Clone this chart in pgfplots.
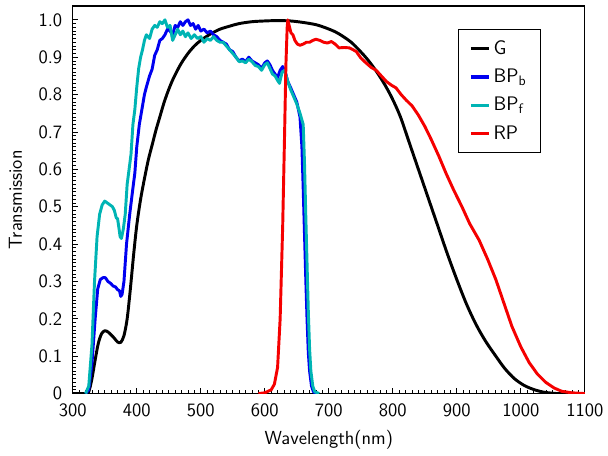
\documentclass[border=0pt]{standalone}
\usepackage{pgfplots}
\pgfplotsset{compat=1.18}
\renewcommand{\familydefault}{\sfdefault}
\definecolor{cG}{RGB}{0,0,0}
\definecolor{cB}{RGB}{0,0,240}
\definecolor{cF}{RGB}{0,180,180}
\definecolor{cR}{RGB}{245,0,0}
\begin{document}
\begin{tikzpicture}[font=\fontsize{13.5}{16}\selectfont]
\begin{axis}[
  scale only axis, width=366pt, height=277pt,
  xmin=300, xmax=1100, ymin=0, ymax=1.037,
  xtick={300,400,...,1100},
  ytick={0,0.1,...,1.0},
  yticklabels={0,0.1,0.2,0.3,0.4,0.5,0.6,0.7,0.8,0.9,1.0},
  minor x tick num=9, minor y tick num=9,
  xtick pos=lower, ytick pos=left,
  tick align=inside,
  major tick length=4pt, minor tick length=2.2pt,
  every tick/.style={black, line width=0.6pt},
  axis line style={line width=0.9pt},
  /pgf/number format/assume math mode=true,
  x tick label style={/pgf/number format/1000 sep={}, yshift=-3.5pt},
  y tick label style={xshift=-4pt},
  xlabel={Wavelength(nm)}, ylabel={Transmission},
  xlabel style={yshift=-3pt},
  ylabel style={yshift=5pt},
  legend style={at={(0.914,0.941)}, anchor=north east, draw=black, line width=0.7pt,
    row sep=5pt, inner xsep=8pt, inner ysep=6pt, font=\fontsize{14}{16}\selectfont},
  legend cell align=left,
  legend image code/.code={\draw[#1, line width=2.4pt] (0pt,0pt) -- (13pt,0pt);},
  every axis plot/.append style={line width=2.1pt, line join=round},
]
\addplot[cG, smooth] coordinates {
(300,0)(320,0)(325,0.005)(330,0.04)(335,0.09)(340,0.135)(345,0.16)(350,0.168)(355,0.165)(360,0.157)(365,0.148)(370,0.138)(375,0.137)(380,0.155)(385,0.2)(390,0.28)(395,0.37)(400,0.45)(406,0.52)(412,0.575)(418,0.625)(424,0.665)(430,0.705)(436,0.74)(442,0.775)(448,0.805)(455,0.835)(462,0.86)(470,0.885)(480,0.91)(490,0.93)(500,0.945)(515,0.962)(530,0.975)(545,0.983)(560,0.99)(580,0.995)(600,0.997)(620,0.998)(640,0.997)(660,0.993)(680,0.987)(696,0.978)(710,0.968)(721,0.957)(735,0.94)(748,0.918)(761,0.893)(774,0.863)(787,0.828)(799,0.79)(812,0.74)(826,0.67)(840,0.60)(855,0.525)(870,0.45)(885,0.375)(900,0.305)(915,0.24)(930,0.185)(945,0.14)(961,0.10)(975,0.067)(990,0.04)(1005,0.022)(1020,0.011)(1035,0.004)(1050,0.001)(1060,0)(1100,0)
};
\addlegendentry{G}
\addplot[cB] coordinates {
(320,0)(325,0.01)(330,0.08)(335,0.2)(339,0.28)(343,0.305)(347,0.31)(351,0.31)(355,0.3)(359,0.295)(363,0.288)(367,0.285)(370,0.278)(373,0.275)(375,0.26)(377,0.265)(380,0.3)(384,0.4)(389,0.48)(394,0.55)(397,0.59)(400,0.66)(404,0.72)(408,0.76)(412,0.8)(415,0.82)(420,0.85)(424,0.868)(428,0.905)(432,0.92)(436,0.945)(440,0.95)(444,0.96)(448,0.975)(452,0.97)(456,0.96)(460,0.985)(464,0.98)(468,0.995)(472,0.985)(476,0.995)(480,1.0)(484,0.985)(488,0.99)(492,0.975)(496,0.985)(500,0.97)(505,0.975)(510,0.965)(515,0.97)(520,0.96)(525,0.955)(530,0.945)(535,0.94)(540,0.935)(545,0.92)(550,0.915)(555,0.9)(560,0.89)(565,0.895)(570,0.888)(575,0.9)(580,0.89)(585,0.885)(590,0.88)(595,0.87)(600,0.885)(604,0.89)(608,0.88)(612,0.865)(616,0.855)(620,0.845)(624,0.865)(628,0.875)(632,0.86)(636,0.835)(640,0.82)(645,0.8)(650,0.78)(655,0.74)(658,0.66)(660,0.55)(662,0.43)(664,0.31)(666,0.2)(668,0.11)(670,0.06)(673,0.02)(676,0.005)(680,0)
};
\addlegendentry{BP\textsubscript{b}}
\addplot[cF] coordinates {
(320,0)(325,0.02)(330,0.13)(334,0.3)(338,0.42)(342,0.48)(346,0.505)(350,0.515)(354,0.51)(358,0.505)(362,0.5)(365,0.49)(368,0.47)(370,0.468)(372,0.445)(374,0.42)(376,0.415)(379,0.44)(382,0.48)(385,0.56)(388,0.6)(391,0.64)(394,0.72)(397,0.76)(400,0.82)(403,0.87)(406,0.9)(409,0.92)(412,0.945)(415,0.96)(420,0.95)(424,0.975)(428,0.985)(432,0.98)(436,0.995)(440,0.99)(444,1.0)(448,0.98)(452,0.985)(456,0.945)(460,0.96)(464,0.975)(468,0.96)(472,0.97)(476,0.955)(480,0.965)(485,0.95)(490,0.96)(495,0.95)(500,0.955)(505,0.94)(510,0.95)(515,0.945)(520,0.955)(525,0.945)(530,0.94)(535,0.94)(540,0.93)(545,0.92)(550,0.91)(555,0.9)(560,0.888)(565,0.89)(570,0.885)(575,0.895)(580,0.888)(585,0.878)(590,0.875)(595,0.865)(600,0.88)(604,0.885)(608,0.87)(612,0.855)(616,0.85)(620,0.838)(623,0.83)(627,0.86)(631,0.865)(635,0.84)(640,0.815)(645,0.795)(650,0.775)(655,0.75)(660,0.72)(662,0.62)(664,0.48)(666,0.35)(668,0.22)(670,0.12)(672,0.06)(675,0.02)(678,0.005)(685,0)
};
\addlegendentry{BP\textsubscript{f}}
\addplot[cR] coordinates {
(590,0)(600,0.002)(610,0.01)(615,0.025)(620,0.07)(624,0.2)(628,0.45)(631,0.7)(633,0.88)(635,0.98)(636,1.0)(638,0.985)(641,0.965)(644,0.96)(647,0.945)(651,0.935)(655,0.932)(660,0.935)(665,0.94)(670,0.94)(675,0.945)(680,0.948)(686,0.945)(692,0.94)(698,0.938)(704,0.942)(710,0.935)(716,0.925)(724,0.926)(732,0.925)(738,0.92)(743,0.915)(750,0.898)(758,0.885)(766,0.873)(774,0.865)(782,0.85)(790,0.835)(798,0.825)(805,0.818)(813,0.8)(821,0.785)(830,0.77)(840,0.745)(850,0.715)(860,0.68)(872,0.635)(883,0.59)(895,0.545)(908,0.50)(920,0.455)(935,0.41)(948,0.36)(961,0.305)(973,0.245)(986,0.18)(1000,0.125)(1013,0.083)(1026,0.052)(1039,0.03)(1052,0.015)(1064,0.006)(1080,0.002)(1100,0)
};
\addlegendentry{RP}
\end{axis}
\path (current axis.north east) -- ++(16pt,4.3pt);
\path (current axis.south west) -- ++(-52pt,-44pt);
\end{tikzpicture}
\end{document}
